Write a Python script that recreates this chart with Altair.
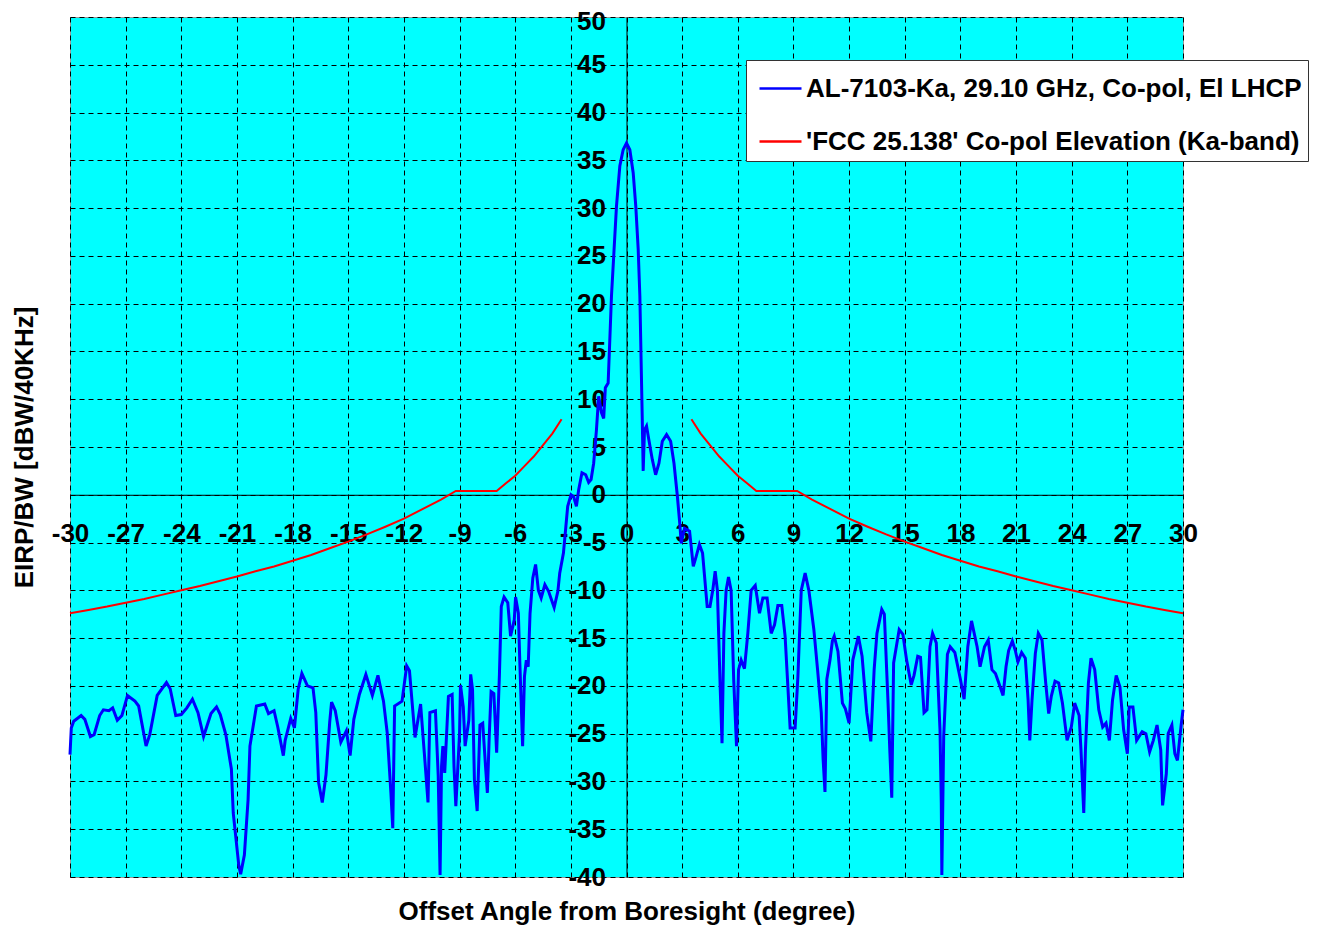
import altair as alt
import pandas as pd

SERIES_BLUE = "AL-7103-Ka, 29.10 GHz, Co-pol, El LHCP"
SERIES_RED = "'FCC 25.138' Co-pol Elevation (Ka-band)"

# Measured antenna pattern (offset angle in degrees, EIRP density in dBW/40kHz)
blue_angle = [
    -30.0, -29.93, -29.8, -29.4, -29.2, -28.9, -28.7, -28.4, -28.2, -27.9, -27.7, -27.45, -27.2, -26.9,
    -26.5, -26.3, -25.9, -25.7, -25.3, -24.8, -24.6, -24.3, -24.0, -23.7, -23.4, -23.1, -22.8, -22.4,
    -22.1, -21.9, -21.6, -21.3, -21.2, -20.9, -20.8, -20.6, -20.4, -20.3, -19.95,
    -19.5, -19.3, -19.0, -18.8, -18.5, -18.4, -18.1, -17.9, -17.7, -17.5, -17.2, -16.9, -16.75, -16.6,
    -16.4, -16.2, -16.0, -15.9, -15.7, -15.4, -15.1, -14.9, -14.7, -14.4, -14.05, -13.7, -13.4, -13.1,
    -12.9, -12.7, -12.6, -12.5, -12.1, -11.85, -11.7, -11.4, -11.1, -10.9, -10.7, -10.6, -10.3, -10.15,
    -10.05,
    -9.97, -9.9, -9.8, -9.6, -9.4, -9.3, -9.2, -9.0, -8.95, -8.8, -8.7, -8.5, -8.4, -8.3, -8.2, -8.05,
    -7.9, -7.75, -7.6, -7.5, -7.4, -7.3, -7.15, -7.0, -6.85, -6.75, -6.6, -6.4, -6.25, -6.05, -5.98,
    -5.83, -5.75, -5.6, -5.5, -5.4, -5.3, -5.2, -5.05, -4.9, -4.75, -4.6, -4.4, -4.2, -3.9, -3.7, -3.6,
    -3.4, -3.3,
    -3.17, -2.99, -2.85, -2.7, -2.58, -2.4, -2.2, -2.04, -1.91, -1.77, -1.62, -1.5, -1.35, -1.23, -1.14,
    -0.99, -0.9, -0.81, -0.68, -0.54, -0.36, -0.18, 0.0, 0.18, 0.36, 0.5, 0.63, 0.72, 0.79, 0.85, 0.9,
    0.97, 1.08, 1.2, 1.39, 1.57, 1.75, 1.93, 2.16, 2.38, 2.56, 2.74, 2.88,
    2.95, 3.13, 3.4, 3.6, 3.75, 3.93, 4.1, 4.35, 4.5, 4.65, 4.78, 4.9, 5.05, 5.15, 5.25, 5.37, 5.5,
    5.64, 5.78, 5.93, 6.04, 6.18, 6.36, 6.54, 6.72, 6.94, 7.17, 7.35, 7.58, 7.8, 7.98, 8.16, 8.37, 8.55,
    8.7, 8.82, 9.09, 9.24, 9.42, 9.63, 9.83,
    10.1, 10.3, 10.5, 10.6, 10.7, 10.8, 10.97, 11.1, 11.2, 11.4, 11.64, 11.8, 12.0, 12.2, 12.5, 12.7,
    12.95, 13.17, 13.35, 13.5, 13.76, 13.9, 14.1, 14.2, 14.3, 14.4, 14.7, 14.9, 15.1, 15.35, 15.5, 15.7,
    15.85, 16.04, 16.2, 16.36, 16.5, 16.7, 16.9, 16.97, 17.0, 17.1, 17.3, 17.45, 17.7, 18.0, 18.2, 18.4,
    18.6, 18.9, 19.06, 19.3, 19.5, 19.7,
    19.89, 20.07, 20.3, 20.46, 20.6, 20.8, 20.96, 21.1, 21.3, 21.5, 21.65, 21.74, 21.86, 22.04, 22.2,
    22.4, 22.6, 22.76, 22.9, 23.1, 23.3, 23.5, 23.75, 23.98, 24.16, 24.4, 24.5, 24.65, 24.74, 24.9,
    25.04, 25.24, 25.46, 25.67, 25.85, 26.03, 26.2, 26.4, 26.6, 26.8, 27.0, 27.1, 27.3, 27.5, 27.8,
    28.0, 28.2, 28.4, 28.6, 28.8, 28.9, 29.1, 29.2, 29.4, 29.56, 29.7, 29.9, 30.0,
]
blue_eirp = [
    -27.2, -24.4, -23.7, -23.1, -23.5, -25.3, -25.1, -23.1, -22.5, -22.6, -22.3, -23.6, -23.1, -21.0,
    -21.6, -22.1, -26.3, -25.1, -21.0, -19.65, -20.3, -23.1, -23.0, -22.3, -21.4, -22.8, -25.3, -22.9,
    -22.2, -23.0, -25.1, -28.7, -33.3, -38.8, -39.7, -37.7, -31.9, -26.3, -22.1,
    -21.9, -22.9, -22.6, -24.3, -27.3, -25.7, -23.4, -24.4, -20.35, -18.7, -20.0, -20.2, -22.8, -30.1,
    -32.2, -29.3, -23.8, -21.7, -22.6, -25.9, -24.7, -27.3, -23.5, -20.9, -18.8, -21.0, -18.9, -21.6,
    -24.9, -31.2, -34.9, -22.1, -21.6, -17.9, -18.4, -25.4, -21.9, -27.0, -32.2, -22.8, -22.6, -29.4,
    -39.8,
    -28.4, -26.3, -29.1, -21.1, -20.9, -28.4, -32.6, -25.0, -19.9, -22.2, -26.3, -23.6, -18.8, -20.4,
    -29.8, -33.1, -24.1, -23.9, -28.4, -31.2, -25.3, -20.6, -20.8, -27.0, -18.8, -11.7, -10.7, -11.3,
    -14.8, -13.1, -10.7, -12.4, -17.6, -26.3, -19.0, -17.3, -18.0, -12.4, -8.7, -7.3, -10.0, -10.8,
    -9.4, -10.1, -11.8, -10.1, -8.2, -6.1, -4.0,
    -1.2, 0.0, -0.2, -1.2, 0.5, 2.3, 2.1, 1.3, 1.6, 3.3, 6.8, 10.3, 8.6, 8.0, 11.2, 11.7, 16.2, 20.8,
    25.3, 30.2, 34.4, 36.1, 36.8, 36.1, 33.7, 30.2, 25.7, 20.8, 13.8, 7.9, 2.5, 6.8, 7.2, 5.8, 3.7, 2.1,
    3.3, 5.6, 6.3, 5.6, 3.3, -0.1, -3.2,
    -5.1, -3.5, -3.8, -7.5, -6.5, -5.2, -6.1, -11.7, -11.7, -10.0, -8.0, -10.0, -20.1, -26.0, -14.5,
    -10.0, -8.6, -10.0, -19.4, -26.3, -18.3, -17.3, -18.2, -14.5, -10.0, -9.5, -12.4, -10.8, -10.8,
    -14.5, -13.6, -11.6, -11.6, -14.8, -20.1, -24.4, -24.4, -19.0, -10.0, -8.2, -10.0,
    -14.1, -18.3, -22.8, -27.7, -31.1, -19.3, -17.3, -15.3, -14.8, -16.4, -21.8, -22.4, -23.9, -17.3,
    -14.8, -16.9, -22.8, -25.8, -18.3, -14.5, -12.0, -12.5, -21.8, -27.0, -31.7, -17.6, -14.1, -14.6,
    -17.3, -19.9, -18.9, -16.9, -17.0, -22.8, -22.5, -15.9, -14.5, -15.5, -24.6, -32.3, -39.8, -25.3,
    -16.7, -15.9, -16.5, -19.3, -21.4, -15.9, -13.2, -15.9, -18.0, -15.9, -15.2, -18.3,
    -18.7, -19.7, -21.0, -18.0, -16.3, -15.3, -16.3, -17.5, -16.5, -17.1, -21.5, -25.7, -21.5, -16.6,
    -14.5, -15.2, -19.7, -22.9, -21.1, -19.5, -19.7, -21.8, -25.7, -24.3, -21.8, -23.1, -26.7, -33.3,
    -26.7, -19.7, -17.1, -18.3, -22.5, -24.3, -23.9, -25.7, -21.5, -18.9, -20.1, -24.6, -27.1, -22.2,
    -22.2, -25.7, -24.8, -25.0, -26.9, -25.7, -24.1, -26.7, -32.5, -29.2, -25.0, -24.1, -27.1, -27.8,
    -24.1, -22.5,
]

# FCC 25.138 mask (symmetric about boresight)
mask_angle = [3.5, 4.0, 4.5, 5.0, 5.5, 6.0, 6.5, 7.0, 9.2, 10.0, 11.0, 12.0, 13.0, 14.0, 15.0,
              16.0, 17.0, 18.0, 19.0, 20.0, 21.0, 22.0, 23.0, 24.0, 25.0, 26.0, 27.0, 28.0, 29.0, 30.0]
mask_eirp = [7.9, 6.4, 5.2, 4.0, 3.0, 2.0, 1.2, 0.4, 0.4, -0.5, -1.5, -2.5, -3.35, -4.15, -4.9,
             -5.6, -6.3, -6.9, -7.5, -8.0, -8.55, -9.05, -9.55, -10.0, -10.45, -10.9, -11.3, -11.7,
             -12.05, -12.4]

x_ticks = list(range(-30, 31, 3))
y_ticks = list(range(-40, 51, 5))

blue_rows = [dict(angle=a, eirp=v, series=SERIES_BLUE, seg="b", ord=i)
             for i, (a, v) in enumerate(zip(blue_angle, blue_eirp))]
red_rows = []
for i, (a, v) in enumerate(reversed(list(zip(mask_angle, mask_eirp)))):
    red_rows.append(dict(angle=-a, eirp=v, series=SERIES_RED, seg="L", ord=i))
for i, (a, v) in enumerate(zip(mask_angle, mask_eirp)):
    red_rows.append(dict(angle=a, eirp=v, series=SERIES_RED, seg="R", ord=i))

blue_df = pd.DataFrame(blue_rows)
red_df = pd.DataFrame(red_rows)

FONT = "Liberation Sans"
FS = 26
W, H = 1113, 860
X_AXIS_Y = 50 * H / 90           # pixel row of y = 0 inside the plot (from top)
X_OFF = -(H - X_AXIS_Y)          # put x axis on the y = 0 line
Y_OFF = -(W / 2)                 # put y axis on the x = 0 line

common_axis = dict(
    grid=True, gridDash=[5, 4], gridColor="black", gridWidth=1, gridOpacity=1,
    domainColor="black", domainWidth=1, ticks=False,
    labelFlush=False, labelOverlap=False, labelExpr="'' + datum.value",
    labelFont=FONT, labelFontSize=FS, labelFontWeight="bold", labelColor="black",
    titleFont=FONT, titleFontSize=FS, titleFontWeight="bold", titleColor="black",
    titleBaseline="middle", titleAlign="center",
)

x_enc = alt.X(
    "angle:Q",
    scale=alt.Scale(domain=[-30, 30], nice=False, zero=False),
    axis=alt.Axis(
        values=x_ticks, title="Offset Angle from Boresight (degree)",
        offset=X_OFF, labelPadding=26,
        titleX=W / 2, titleY=894 - X_AXIS_Y, **common_axis,
    ),
)
y_enc = alt.Y(
    "eirp:Q",
    scale=alt.Scale(domain=[-40, 50], nice=False, zero=False),
    axis=alt.Axis(
        values=y_ticks, title="EIRP/BW [dBW/40KHz]",
        offset=Y_OFF, labelPadding=21,
        labelOffset={"condition": {"test": "datum.value == 50", "value": 4}, "value": 0},
        titleX=-46 + Y_OFF, titleY=H / 2, titleAngle=270, **common_axis,
    ),
)
color_enc = alt.Color(
    "series:N",
    scale=alt.Scale(domain=[SERIES_BLUE, SERIES_RED], range=["#0000FF", "#FF0000"]),
    legend=alt.Legend(
        title=None, orient="none", legendX=676, legendY=43, direction="vertical",
        symbolType="stroke", symbolSize=1764, symbolStrokeWidth=2.5, symbolOffset=6,
        labelFont=FONT, labelFontSize=FS, labelFontWeight="bold", labelColor="black",
        labelOffset=3, labelLimit=800, rowPadding=17, padding=6,
        fillColor="white", strokeColor="#333333",
    ),
)

red = alt.Chart(red_df).mark_line(strokeWidth=2).encode(
    x=x_enc, y=y_enc, color=color_enc, detail="seg:N", order="ord:Q"
)
blue = alt.Chart(blue_df).mark_line(strokeWidth=3).encode(
    x=x_enc, y=y_enc, color=color_enc, detail="seg:N", order="ord:Q"
)

chart = alt.layer(red, blue).properties(
    width=W, height=H,
    autosize=alt.AutoSizeParams(type="none"),
    padding={"left": 62, "top": 9, "right": 128, "bottom": 55},
    background="white",
).configure_view(fill="#00FFFF", stroke="#999999", strokeWidth=1)

chart.save("out.html", embed_options={"renderer": "svg", "actions": False})
